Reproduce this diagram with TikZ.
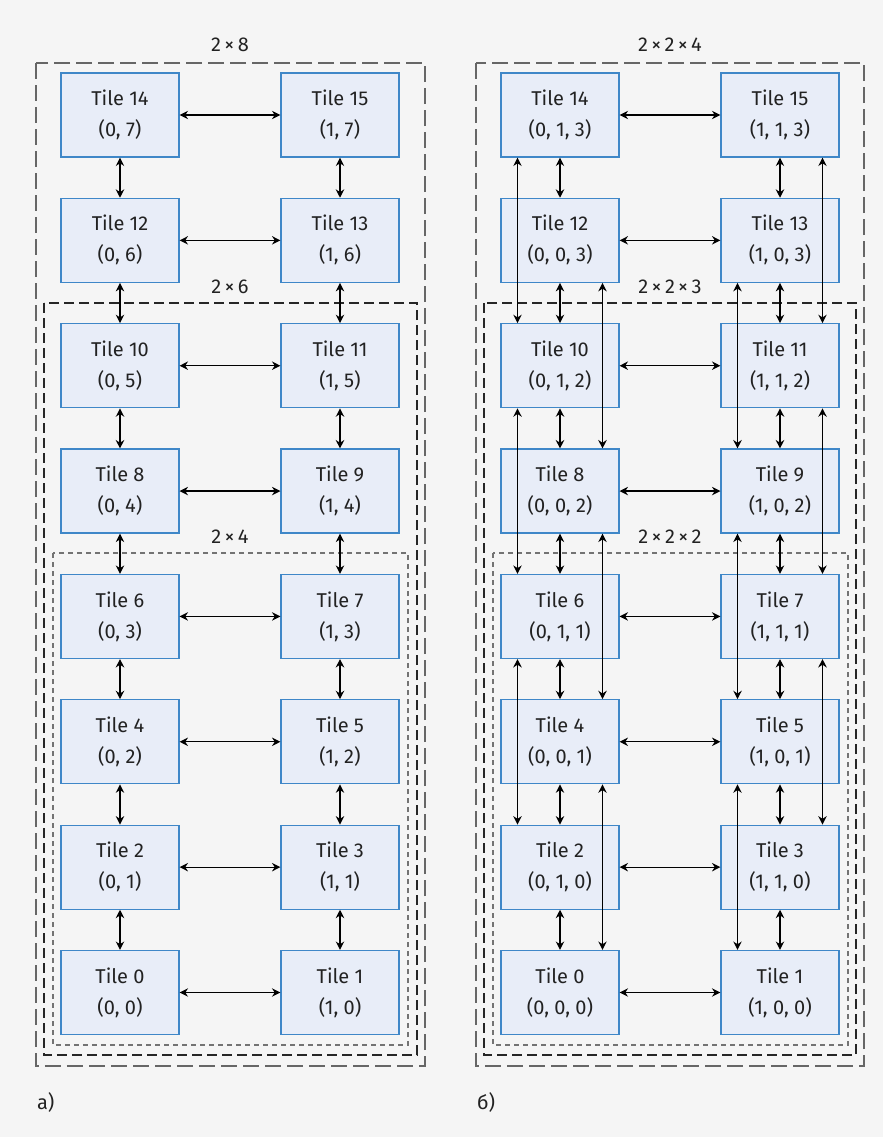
\documentclass[tikz,border=0pt]{standalone}
\usepackage{fontspec}
\setmainfont{Fira Sans}
\usetikzlibrary{arrows.meta}

\definecolor{bgcol}{HTML}{F5F5F5}
\definecolor{tilefill}{HTML}{E8EDF8}
\definecolor{tileline}{HTML}{3F87C8}
\definecolor{inkcol}{HTML}{222222}

\begin{document}
\begin{tikzpicture}[
  x=0.5pt, y=-0.5pt,
  every node/.style={font=\fontsize{10}{15.5}\selectfont, text=inkcol},
  tile/.style={draw=tileline, fill=tilefill, line width=0.6pt,
    minimum width=59pt, minimum height=42pt, align=center, inner sep=0pt},
  link/.style={{Stealth[length=4.2pt,width=4.2pt]}-{Stealth[length=4.2pt,width=4.2pt]},
    line width=0.65pt, draw=black},
  outerframe/.style={draw=black!60, line width=0.7pt, dash pattern=on 8pt off 3pt},
  midframe/.style={draw=black!85, line width=0.7pt, dash pattern=on 5pt off 2.5pt},
  innerframe/.style={draw=black!55, line width=0.7pt, dash pattern=on 2.5pt off 2pt}
]
  % Фон
  \path[use as bounding box, fill=bgcol] (0,0) rectangle (883,1137);

  % Рамки слева
  \draw[outerframe] (36,63) rectangle (425,1066);
  \draw[midframe]   (44,303) rectangle (417,1055);
  \draw[innerframe] (53,553) rectangle (408,1045);
  \node (szA) at (230,45)  {2\,×\,8};
  \node (szB) at (230,287) {2\,×\,6};
  \node (szC) at (230,537) {2\,×\,4};

  % Рамки справа
  \draw[outerframe] (476,63) rectangle (864,1066);
  \draw[midframe]   (484,303) rectangle (856,1055);
  \draw[innerframe] (493,553) rectangle (848,1045);
  \node (szD) at (670,45)  {2\,×\,2\,×\,4};
  \node (szE) at (670,287) {2\,×\,2\,×\,3};
  \node (szF) at (670,537) {2\,×\,2\,×\,2};

  % Тайлы
  \foreach \n in {0,...,15}{
    \pgfmathtruncatemacro{\cx}{mod(\n,2)}
    \pgfmathtruncatemacro{\cy}{div(\n,2)}
    \pgfmathtruncatemacro{\cq}{mod(\cy,2)}
    \pgfmathtruncatemacro{\cz}{div(\n,4)}
    \node[tile] (L\n) at ({120+220*\cx},{992.5-125.36*\cy})
      {Tile \n\\(\cx, \cy)};
    \node[tile] (R\n) at ({560+220*\cx},{992.5-125.36*\cy})
      {Tile \n\\(\cx, \cq, \cz)};
  }

  % Связи по вертикали
  \foreach \n in {0,...,13}{
    \pgfmathtruncatemacro{\m}{\n+2}
    \draw[link] (L\n.north) -- (L\m.south);
    \draw[link] (R\n.north) -- (R\m.south);
  }

  % Связи по горизонтали
  \foreach \n in {0,2,...,14}{
    \pgfmathtruncatemacro{\m}{\n+1}
    \draw[link] (L\n.east) -- (L\m.west);
    \draw[link] (R\n.east) -- (R\m.west);
  }

  % Длинные связи через ряд (справа)
  \foreach \n in {0,...,11}{
    \pgfmathtruncatemacro{\m}{\n+4}
    \pgfmathtruncatemacro{\cx}{mod(\n,2)}
    \pgfmathtruncatemacro{\cq}{mod(div(\n,2),2)}
    \pgfmathsetmacro{\dx}{(2*\cq-1)*(2*\cx-1)*21.25}
    \draw[link] ([xshift=\dx pt]R\n.north) -- ([xshift=\dx pt]R\m.south);
  }

  % Подписи
  \node[anchor=west] (capA) at (30,1102)  {а)};
  \node[anchor=west] (capB) at (470,1102) {б)};
\end{tikzpicture}
\end{document}
